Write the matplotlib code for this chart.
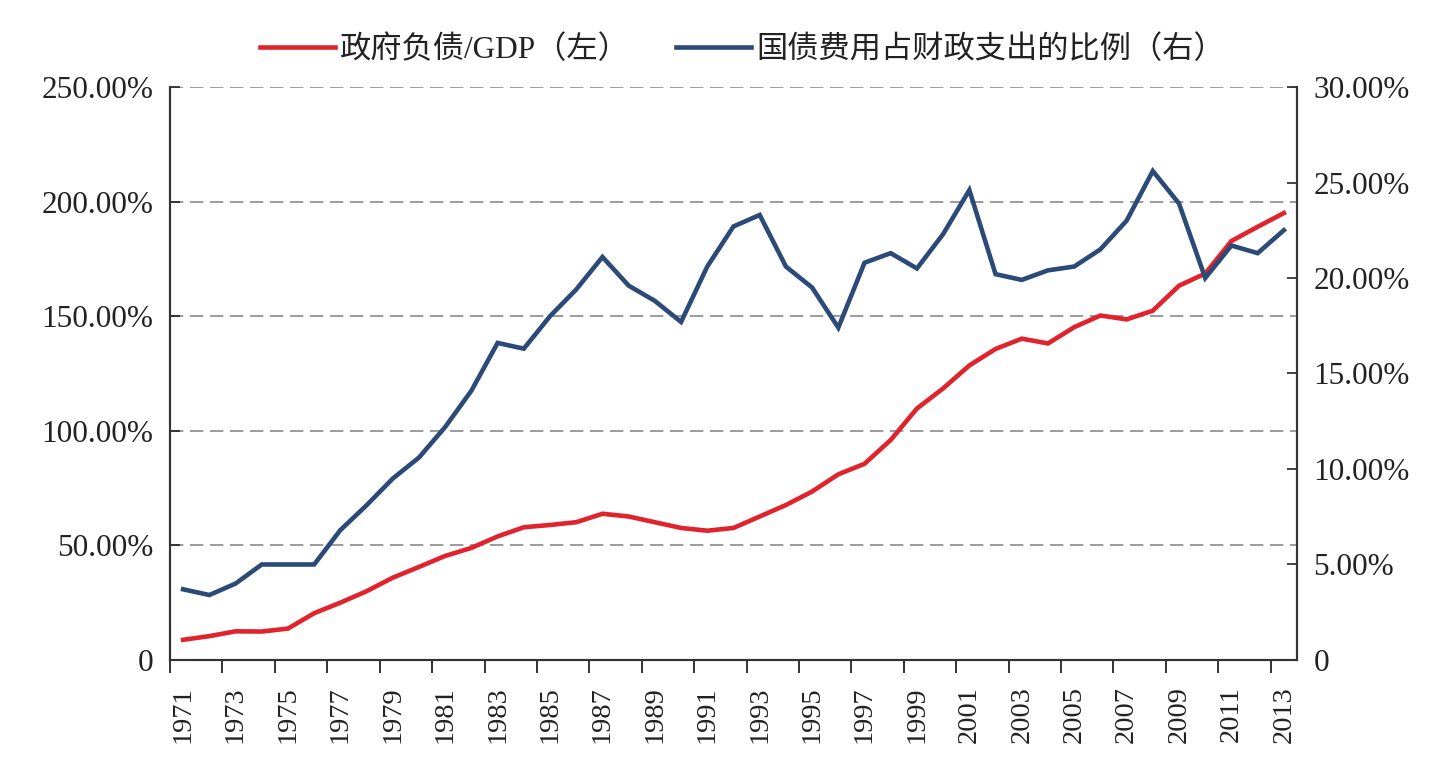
import matplotlib
matplotlib.use("Agg")
import matplotlib.pyplot as plt
from matplotlib.ticker import FuncFormatter

plt.rcParams['font.family'] = ['Liberation Serif', 'Noto Sans CJK SC', 'DejaVu Sans']

years = list(range(1971, 2014))

# 政府负债/GDP (%), left axis
debt_gdp = [8.8, 10.4, 12.5, 12.4, 13.7, 20.4, 25.0, 30.0, 35.9, 40.6,
            45.4, 48.9, 53.9, 57.9, 58.9, 60.1, 63.8, 62.6, 60.1, 57.6,
            56.4, 57.6, 62.6, 67.6, 73.5, 81.0, 85.6, 96.0, 109.7, 118.5,
            128.5, 135.7, 140.2, 138.1, 145.2, 150.3, 148.6, 152.4, 163.3, 168.6,
            182.8, 189.0, 195.0]

# 国债费用占财政支出的比例 (%), right axis
interest_share = [3.7, 3.4, 4.0, 5.0, 5.0, 5.0, 6.8, 8.1, 9.5, 10.6,
                  12.2, 14.1, 16.6, 16.3, 18.0, 19.4, 21.1, 19.6, 18.8, 17.7,
                  20.6, 22.7, 23.3, 20.6, 19.5, 17.4, 20.8, 21.3, 20.5, 22.3,
                  24.6, 20.2, 19.9, 20.4, 20.6, 21.5, 23.0, 25.6, 23.9, 20.0,
                  21.7, 21.3, 22.5]

label_left = '政府负债/GDP（左）'
label_right = '国债费用占财政支出的比例（右）'

RED = '#e0232c'
BLUE = '#2b4a78'
TXT = '#222222'

fig = plt.figure(figsize=(14.47, 7.70), dpi=100)
ax = fig.add_axes([0.1175, 0.1429, 0.7788, 0.7441])
ax2 = ax.twinx()

l1, = ax.plot(years, debt_gdp, color=RED, lw=3.3, solid_joinstyle='miter')
l2, = ax2.plot(years, interest_share, color=BLUE, lw=3.3, solid_joinstyle='miter')

ax.set_xlim(1970.5, 2013.5)
ax.set_ylim(0, 250)
ax2.set_ylim(0, 30)

ax.set_yticks([0, 50, 100, 150, 200, 250])
ax2.set_yticks([0, 5, 10, 15, 20, 25, 30])
pct = FuncFormatter(lambda v, p: '0' if v == 0 else '{:.2f}%'.format(v))
ax.yaxis.set_major_formatter(pct)
ax2.yaxis.set_major_formatter(pct)

# labels every other year, tick marks on category boundaries
ax.set_xticks(years[::2])
ax.set_xticklabels([str(y) for y in years[::2]], rotation=90)
ax.set_xticks([1970.5 + 2 * k for k in range(22)], minor=True)
ax.tick_params(axis='x', which='major', length=0, pad=19, labelsize=20.5, colors=TXT)
ax.tick_params(axis='x', which='minor', length=9, width=1.4, direction='out', color='#333333')

ax.tick_params(axis='y', direction='in', length=7, width=1.2, labelsize=22.5,
               pad=12, colors=TXT)
ax2.tick_params(axis='y', direction='in', length=7, width=1.2, labelsize=22.5,
                pad=12, colors=TXT)

for a in (ax, ax2):
    a.spines['top'].set_visible(False)
    for s in ('left', 'right', 'bottom'):
        a.spines[s].set_color('#333333')
        a.spines[s].set_linewidth(1.5)

ax.yaxis.grid(True, color='#8a8a8a', linestyle=(0, (8, 4)), linewidth=1.2)
ax.set_axisbelow(True)

fig.legend([l1, l2], [label_left, label_right], loc='center',
           bbox_to_anchor=(0.513, 0.935), ncol=2, frameon=False,
           fontsize=22.5, handlelength=2.4, handletextpad=0.15,
           columnspacing=1.5, labelcolor=TXT)

fig.savefig('out.png', dpi=100)
